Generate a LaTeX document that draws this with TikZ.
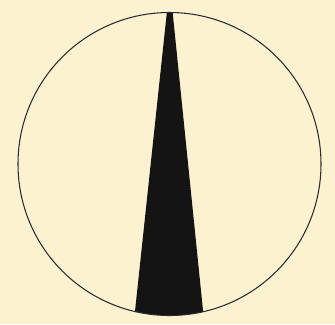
\documentclass[tikz,border=0pt]{standalone}
\usepackage{xcolor}
\usepackage{tikz}
\definecolor{paper}{HTML}{FCF2CF}
\definecolor{ink}{HTML}{2A2A33}
\tikzset{
  rim/.style={draw=ink, line width=0.9pt},
  wedge/.style={fill=black!92},
}
\begin{document}
\begin{tikzpicture}[x=0.03cm, y=-0.03cm]
\useasboundingbox[fill=paper] (0,0) rectangle (335,324);
\coordinate (c) at (169.5,164);
% black sector, cut off by the rim
\begin{scope}
\clip (c) circle[radius=151.5];
\fill[wedge] (167,11) -- (172.5,11) -- (205,330) -- (133,330) -- cycle;
\end{scope}
\draw[rim] (c) circle[radius=151.5];
\end{tikzpicture}
\end{document}
